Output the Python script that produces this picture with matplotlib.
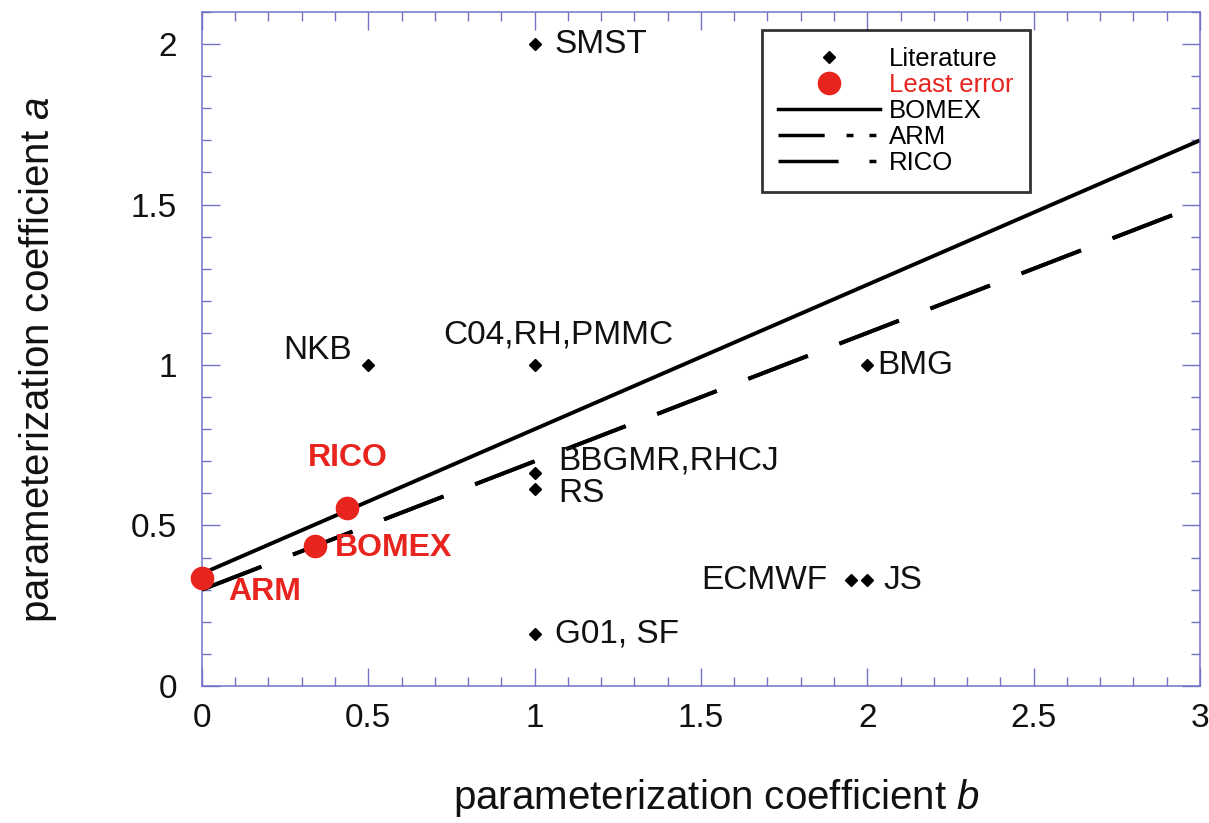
import matplotlib
matplotlib.use("Agg")
import matplotlib.pyplot as plt
from matplotlib.lines import Line2D
from matplotlib.ticker import MultipleLocator, FuncFormatter

plt.rcParams["font.family"] = ["Liberation Sans", "DejaVu Sans"]
plt.rcParams["mathtext.fontset"] = "custom"
plt.rcParams["mathtext.rm"] = "Liberation Sans"
plt.rcParams["mathtext.it"] = "Liberation Sans:italic"

# published (b, a) pairs
lit_names = ["SMST", "NKB", "C04,RH,PMMC", "BMG", "BBGMR,RHCJ", "RS",
             "ECMWF", "JS", "G01, SF"]
lit_b = [1.0, 0.5, 1.0, 2.0, 1.0, 1.0, 1.95, 2.0, 1.0]
lit_a = [2.0, 1.0, 1.0, 1.0, 0.665, 0.615, 0.33, 0.33, 0.162]

# least-error points per case
best_names = ["ARM", "BOMEX", "RICO"]
best_b = [0.0, 0.34, 0.435]
best_a = [0.337, 0.437, 0.555]

# linear fits a = a0 + slope * b
fit_names = ["BOMEX", "ARM", "RICO"]
fit_a0 = [0.35, 0.30, 0.30]
fit_slope = [0.45, 0.40, 0.40]
b_range = [0.0, 3.0]

RED = "#e8241e"
SPINE = "#7272c8"

fig = plt.figure(figsize=(12.09, 8.23), dpi=100)
ax = fig.add_axes([0.167, 0.1665, 0.8255, 0.819])

lw = 2.8
styles = {"BOMEX": "-", "ARM": (0, (16.4, 8.7)), "RICO": (0, (16.4, 8.7))}
for name, a0, k in zip(fit_names, fit_a0, fit_slope):
    ax.plot(b_range, [a0 + k * b for b in b_range], color="black", lw=lw,
            linestyle=styles[name], solid_capstyle="butt", zorder=2)

ax.plot(lit_b, lit_a, linestyle="none", marker="D", ms=6, color="black", zorder=3)
ax.plot(best_b, best_a, linestyle="none", marker="o", ms=16, color=RED,
        markeredgecolor=RED, zorder=4, clip_on=False)

# text placement for literature labels: (dx, da, ha)
lit_offsets = {
    "SMST": (0.06, 0.0, "left"),
    "NKB": (-0.05, 0.045, "right"),
    "C04,RH,PMMC": (0.07, 0.095, "center"),
    "BMG": (0.03, 0.0, "left"),
    "BBGMR,RHCJ": (0.07, 0.035, "left"),
    "RS": (0.07, -0.015, "left"),
    "ECMWF": (-0.07, 0.0, "right"),
    "JS": (0.05, 0.0, "left"),
    "G01, SF": (0.06, 0.0, "left"),
}
for name, b, a in zip(lit_names, lit_b, lit_a):
    dx, da, ha = lit_offsets[name]
    ax.text(b + dx, a + da, name, fontsize=24, ha=ha, va="center", color="#111111")

best_offsets = {"ARM": (0.078, -0.045, "left"), "BOMEX": (0.06, -0.007, "left"),
                "RICO": (0.005, 0.155, "center")}
for name, b, a in zip(best_names, best_b, best_a):
    dx, da, ha = best_offsets[name]
    ax.text(b + dx, a + da, name, fontsize=23, fontweight="bold", ha=ha,
            va="center", color=RED)

ax.set_xlim(0, 3)
ax.set_ylim(0, 2.1)
ax.xaxis.set_major_locator(MultipleLocator(0.5))
ax.xaxis.set_minor_locator(MultipleLocator(0.1))
ax.yaxis.set_major_locator(MultipleLocator(0.5))
ax.yaxis.set_minor_locator(MultipleLocator(0.1))
fmt = FuncFormatter(lambda v, p: f"{v:g}")
ax.xaxis.set_major_formatter(fmt)
ax.yaxis.set_major_formatter(fmt)

for sp in ax.spines.values():
    sp.set_color(SPINE)
    sp.set_linewidth(1.1)
ax.tick_params(which="both", direction="in", top=True, right=True,
               color=SPINE, width=1.0, labelsize=24, labelcolor="#111111")
ax.tick_params(which="major", length=13)
ax.tick_params(which="minor", length=6.5)
ax.tick_params(axis="x", pad=12)
ax.tick_params(axis="y", pad=18)

ax.set_xlabel(r"parameterization coefficient $\it{b}$", fontsize=29, color="#111111")
ax.set_ylabel(r"parameterization coefficient $\it{a}$", fontsize=29, color="#111111")
ax.xaxis.set_label_coords(0.515, -0.135)
ax.yaxis.set_label_coords(-0.143, 0.484)

# legend handles
h_lit = Line2D([], [], linestyle="none", marker="D", ms=6, color="black")
h_best = Line2D([], [], linestyle="none", marker="o", ms=16, color=RED)
h_bomex = Line2D([], [], color="black", lw=2.5, linestyle="-")
h_arm = Line2D([], [], color="black", lw=2.5,
               linestyle=(0, (13.3, 6.3, 2.0, 4.6, 2.0, 30)))
h_rico = Line2D([], [], color="black", lw=2.5, linestyle=(0, (17.3, 8.9, 2.0, 15)))
leg = ax.legend([h_lit, h_best, h_bomex, h_arm, h_rico],
                ["Literature", "Least error", "BOMEX", "ARM", "RICO"],
                loc="upper left", bbox_to_anchor=(0.561, 0.973), fontsize=18.5,
                frameon=True, fancybox=False, handlelength=3.95, handletextpad=0.35,
                labelspacing=0.08, borderpad=0.65, borderaxespad=0)
leg.get_frame().set_edgecolor("black")
leg.get_frame().set_linewidth(2.0)
leg.get_texts()[1].set_color(RED)

fig.savefig("out.png", dpi=100)
